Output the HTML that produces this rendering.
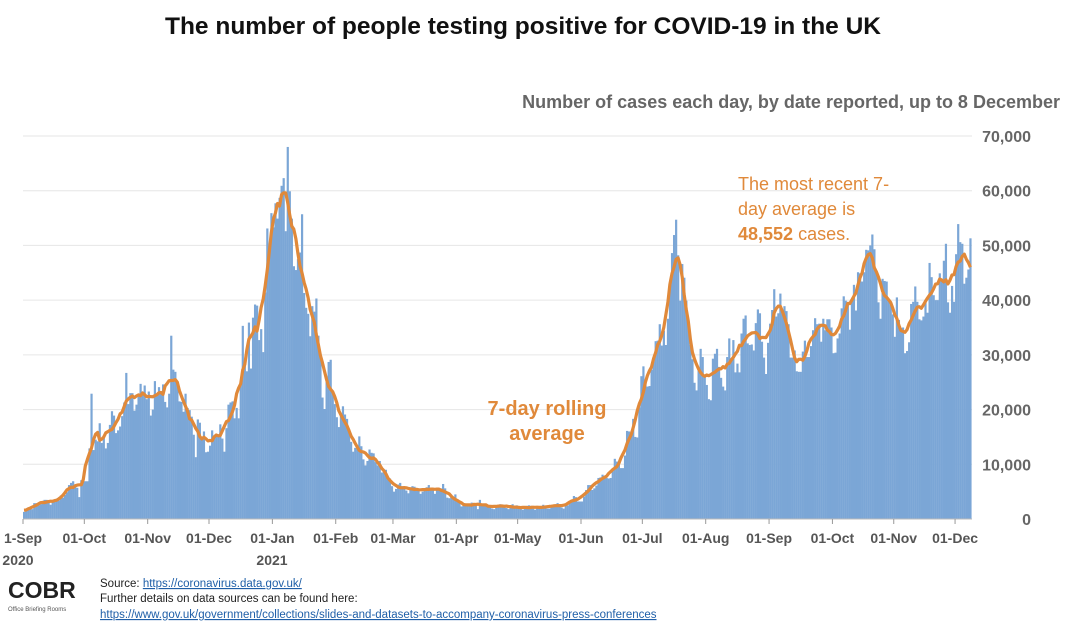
<!DOCTYPE html>
<html><head><meta charset="utf-8">
<style>
html,body{margin:0;padding:0;background:#fff;}
body{width:1066px;height:632px;overflow:hidden;position:relative;font-family:"Liberation Sans",Arial,sans-serif;}
svg{position:absolute;left:0;top:0;}
</style></head>
<body>
<svg id="chart" width="1066" height="632" viewBox="0 0 1066 632">
  <text x="523" y="34" text-anchor="middle" font-size="24.5" font-weight="bold" fill="#111">The number of people testing positive for COVID-19 in the UK</text>
  <text x="1060" y="108" text-anchor="end" font-size="18" font-weight="bold" fill="#666">Number of cases each day, by date reported, up to 8 December</text>
  <g id="grid"></g>
  <g id="yticks"></g>
  <g id="bars"></g>
  <path id="avgline" fill="none" stroke="#e0893a" stroke-width="3.2" stroke-linejoin="round"/>
  <line x1="23" y1="519" x2="972" y2="519" stroke="#bbb" stroke-width="1"/>
  <g id="xticks"></g>
  <text x="18" y="565" text-anchor="middle" font-size="14" font-weight="bold" fill="#555">2020</text>
  <text x="272" y="565" text-anchor="middle" font-size="14" font-weight="bold" fill="#555">2021</text>
  <g>
    <text x="547" y="415" text-anchor="middle" font-size="20" font-weight="bold" fill="#e0893a">7-day rolling</text>
    <text x="547" y="440" text-anchor="middle" font-size="20" font-weight="bold" fill="#e0893a">average</text>
  </g>
  <g font-size="18" fill="#e0893a">
    <text x="738" y="190">The most recent 7-</text>
    <text x="738" y="215">day average is</text>
    <text x="738" y="240"><tspan font-weight="bold">48,552</tspan> cases.</text>
  </g>
  <g>
    <text x="8" y="598" font-size="23" font-weight="bold" fill="#222">COBR</text>
    <text x="8" y="611" font-size="6" fill="#555">Office Briefing Rooms</text>
  </g>
  <g font-size="11.5" fill="#222">
    <text x="100" y="587">Source: <tspan fill="#1f5fa8" text-decoration="underline">https://coronavirus.data.gov.uk/</tspan></text>
    <text x="100" y="602">Further details on data sources can be found here:</text>
    <text x="100" y="618" fill="#1f5fa8" text-decoration="underline">https://www.gov.uk/government/collections/slides-and-datasets-to-accompany-coronavirus-press-conferences</text>
  </g>
</svg>
<script>
// Daily cases from 1 Sep 2020 to 8 Dec 2021 (one row per week)
const dailyCases = [
1300,1500,1700,1900,1800,2900,2900,
2500,2700,2900,3500,3500,3300,2600,
3100,3400,3400,3400,4300,3900,4400,
4900,6200,6600,6900,6000,5700,4000,
7100,7100,6900,6900,12900,22900,12600,
14500,14200,17500,13900,15200,12900,13900,
17200,19700,18900,15700,16200,16900,18800,
21300,26700,21000,23000,23000,19800,20900,
22900,24700,23100,24400,21900,23300,18900,
20000,25200,22900,24100,23300,24600,21400,
20400,22900,33500,27300,26900,24800,21500,
21400,19600,22900,20300,19900,18700,15400,
11300,18200,17600,14900,16000,12200,12300,
13400,16200,14900,15500,15500,17300,14700,
12300,16600,20900,21300,21500,18400,20300,
18400,25100,35300,28500,27000,35900,27500,
36800,39200,39000,32700,34700,30500,41400,
53100,50000,55900,53300,57700,54900,58700,
60900,62300,52600,68000,59900,54900,46200,
45500,47500,48700,55700,41300,38600,37500,
33400,38900,37900,40300,33500,30000,22200,
20100,25300,28700,29100,23300,21000,18600,
16800,19200,20600,19100,18300,15800,14100,
12300,13000,13500,15100,13300,10900,9800,
10600,12700,12100,12000,10400,9800,10600,
8500,9000,9000,7600,7400,6000,5000,
5500,6300,6600,6000,5600,5200,4700,
5800,6000,5900,5500,5200,4600,5000,
5300,5800,6200,5500,5500,4600,5300,
5300,5600,6400,5600,3900,3800,4100,
4000,4500,3400,3000,2300,2400,2400,
2700,2400,3000,2900,2400,1800,3500,
2600,2700,2600,2600,2200,1900,1800,
2500,2400,2700,2600,2600,2000,1800,
2100,2700,2200,2500,2000,1900,1700,
1900,2400,2500,2400,1900,1700,2100,
2100,2300,2600,2200,1900,1900,2400,
2400,2700,2900,2600,2100,1900,2500,
2500,3200,3500,4200,4000,3200,3200,
3200,4100,5300,6200,6200,5300,5600,
6100,7500,7600,8100,7700,7500,7400,
7500,9000,11000,10500,10300,9300,9300,
11600,16100,16000,15800,18300,15000,14900,
20400,26100,27900,24800,24200,24300,27300,
28800,32500,32600,35600,31700,34400,31800,
36600,42300,48600,51900,54700,48200,39900,
46600,44100,39900,36400,31800,29200,24900,
23500,27700,31100,29600,26100,24500,21900,
21700,29300,30200,31100,27800,25800,24200,
23500,29600,33000,29400,32700,26800,28400,
26800,33900,36600,37200,32100,31800,31900,
30800,35800,38300,37600,32400,29500,26500,
32200,35700,38200,42000,37000,37600,41200,
37500,38900,38000,35600,29500,29500,30800,
27000,26900,26900,30600,32600,29600,29600,
31600,34500,36700,35600,35700,32400,36600,
34500,36500,36500,35000,30300,30400,33000,
33900,38500,40700,39900,39300,34600,40200,
42800,38100,45100,44900,43400,45100,49200,
49100,50000,52000,49300,44900,39600,36600,
43900,43500,43400,39800,39100,37400,33300,
40500,36400,34900,35000,30300,30700,32300,
39300,39700,42500,39700,36500,36300,37000,
39900,37700,46800,44200,40900,40000,40000,
44900,43700,47200,50300,39600,37700,42600,
39700,48400,53900,50600,50300,43000,44100,
45600,51300
];
const yTickValues = [0,10000,20000,30000,40000,50000,60000,70000];
const yTickLabels = ["0","10,000","20,000","30,000","40,000","50,000","60,000","70,000"];
const xTickDays = [0,30,61,91,122,153,181,212,242,273,303,334,365,396,426,456];
const xTickLabels = ["1-Sep","01-Oct","01-Nov","01-Dec","01-Jan","01-Feb","01-Mar","01-Apr","01-May","01-Jun","01-Jul","01-Aug","01-Sep","01-Oct","01-Nov","01-Dec"];

const NS = "http://www.w3.org/2000/svg";
const X0 = 23, PXDAY = 2.044, Y0 = 519, YMAX = 70000, YTOP = 136;
function xScale(d){ return X0 + d * PXDAY; }
function yScale(v){ return Y0 - (v / YMAX) * (Y0 - YTOP); }

const grid = document.getElementById('grid');
const yt = document.getElementById('yticks');
yTickValues.forEach((v, i) => {
  const y = yScale(v);
  if (v > 0) {
    const l = document.createElementNS(NS, 'line');
    l.setAttribute('x1', 23); l.setAttribute('x2', 972);
    l.setAttribute('y1', y); l.setAttribute('y2', y);
    l.setAttribute('stroke', '#e6e6e6'); l.setAttribute('stroke-width', '1');
    
    
    grid.appendChild(l);
  }
  const t = document.createElementNS(NS, 'text');
  t.setAttribute('x', 1031); t.setAttribute('y', y + 6);
  t.setAttribute('text-anchor', 'end'); t.setAttribute('font-size', '16');
  t.setAttribute('font-weight', 'bold'); t.setAttribute('fill', '#666');
  t.textContent = yTickLabels[i];
  
  
  yt.appendChild(t);
});

const xt = document.getElementById('xticks');
xTickDays.forEach((d, i) => {
  const x = xScale(d);
  const tk = document.createElementNS(NS, 'line');
  tk.setAttribute('x1', x); tk.setAttribute('x2', x);
  tk.setAttribute('y1', 519); tk.setAttribute('y2', 524);
  tk.setAttribute('stroke', '#999');
  
  
  xt.appendChild(tk);
  const t = document.createElementNS(NS, 'text');
  t.setAttribute('x', x); t.setAttribute('y', 543);
  t.setAttribute('text-anchor', 'middle'); t.setAttribute('font-size', '14');
  t.setAttribute('font-weight', 'bold'); t.setAttribute('fill', '#555');
  t.textContent = xTickLabels[i];
  
  
  xt.appendChild(t);
});

const bars = document.getElementById('bars');
dailyCases.forEach((v, d) => {
  const r = document.createElementNS(NS, 'rect');
  const y = yScale(v);
  r.setAttribute('x', xScale(d));
  r.setAttribute('y', y);
  r.setAttribute('width', PXDAY + 0.15);
  r.setAttribute('height', Y0 - y);
  r.setAttribute('fill', '#7ba6d6');
  
  
  bars.appendChild(r);
});

// centered 7-day rolling average
let pts = [];
const n = dailyCases.length;
dailyCases.forEach((v, d) => {
  const s = Math.max(0, d - 3), e = Math.min(n - 1, d + 3);
  let sum = 0;
  for (let k = s; k <= e; k++) sum += dailyCases[k];
  const avg = sum / (e - s + 1);
  pts.push((pts.length ? 'L' : 'M') + (xScale(d) + PXDAY / 2).toFixed(1) + ',' + yScale(avg).toFixed(1));
});
document.getElementById('avgline').setAttribute('d', pts.join(''));
</script>
</body></html>
